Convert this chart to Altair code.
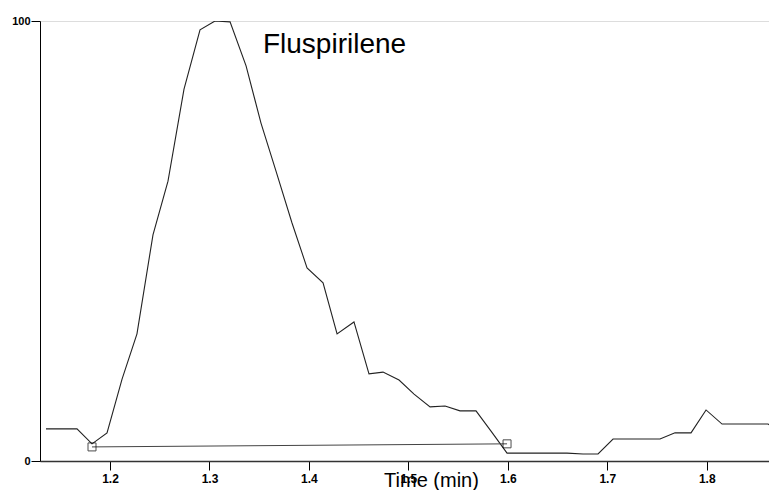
import altair as alt
import pandas as pd

# Chromatogram trace (time in min, relative abundance %)
time = [1.1356, 1.1512, 1.1668, 1.1819, 1.1970, 1.2121, 1.2271, 1.2432, 1.2583,
        1.2744, 1.2905, 1.3056, 1.3207, 1.3368, 1.3518, 1.3669, 1.3830, 1.3981,
        1.4142, 1.4283, 1.4453, 1.4604, 1.4745, 1.4906, 1.5057, 1.5218, 1.5369,
        1.5519, 1.5680, 1.5831, 1.5992, 1.6143, 1.6294, 1.6444, 1.6595, 1.6756,
        1.6907, 1.7058, 1.7219, 1.7369, 1.7530, 1.7681, 1.7842, 1.7993, 1.8154,
        1.8305, 1.8455, 1.8616, 1.8767]
abundance = [7.3, 7.3, 7.3, 3.9, 6.4, 18.6, 28.9, 51.4, 63.6, 84.5, 98.0, 100.0,
             99.8, 89.8, 76.8, 65.9, 54.1, 43.9, 40.5, 28.9, 31.6, 19.8, 20.2,
             18.4, 15.2, 12.3, 12.5, 11.4, 11.4, 6.8, 1.8, 1.8, 1.8, 1.8, 1.8,
             1.6, 1.6, 5.0, 5.0, 5.0, 5.0, 6.4, 6.4, 11.6, 8.4, 8.4, 8.4, 8.4, 6.1]

# Integration baseline end points
base_time = [1.1819, 1.5992]
base_value = [3.2, 3.9]

# Compound label
label_text = ["Fluspirilene"]
label_time = [1.3538]
label_value = [92.7]

x_ticks = [1.2, 1.3, 1.4, 1.5, 1.6, 1.7, 1.8]
y_ticks = [0, 100]

trace = pd.DataFrame({"t": time, "v": abundance})
base = pd.DataFrame({"t": base_time, "v": base_value})
label = pd.DataFrame({"t": label_time, "v": label_value, "text": label_text})

FONT = "Liberation Sans"

xscale = alt.Scale(domain=[1.1296, 1.8626], nice=False, zero=False)
yscale = alt.Scale(domain=[0, 100], nice=False)

xaxis = alt.Axis(values=x_ticks, format=".1f", title="Time (min)", grid=False,
                 tickSize=9, tickColor="black", domainColor="#333", domainWidth=1.5,
                 labelFont=FONT, labelFontSize=12, labelFontWeight="bold",
                 labelColor="black", labelPadding=3,
                 titleFont=FONT, titleFontSize=20, titleFontWeight="normal",
                 titleColor="black", titleX=391, titleY=25,
                 titleBaseline="alphabetic", titleAlign="center")
yaxis = alt.Axis(values=y_ticks, title=None, grid=False, tickSize=9,
                 tickColor="black", domainColor="black", domainWidth=1,
                 labelFont=FONT, labelFontSize=11, labelFontWeight="bold",
                 labelColor="black", labelPadding=1)

line = alt.Chart(trace).mark_line(color="#222", strokeWidth=1.1, clip=True).encode(
    x=alt.X("t:Q", scale=xscale, axis=xaxis),
    y=alt.Y("v:Q", scale=yscale, axis=yaxis),
)

baseline = alt.Chart(base).mark_line(color="#444", strokeWidth=1).encode(
    x=alt.X("t:Q", scale=xscale),
    y=alt.Y("v:Q", scale=yscale),
)

markers = alt.Chart(base).mark_point(shape="square", filled=False, size=64,
                                     color="black", strokeWidth=1).encode(
    x=alt.X("t:Q", scale=xscale),
    y=alt.Y("v:Q", scale=yscale),
)

text = alt.Chart(label).mark_text(font=FONT, fontSize=28, align="left",
                                  baseline="alphabetic", color="black").encode(
    x=alt.X("t:Q", scale=xscale),
    y=alt.Y("v:Q", scale=yscale),
    text="text:N",
)

chart = (line + baseline + markers + text).properties(
    width=729, height=440,
    padding={"left": 3, "top": 7, "right": 0, "bottom": 0},
).configure_view(stroke=None).configure(background="white")

chart.save("out.html", embed_options={"renderer": "svg", "actions": False})
